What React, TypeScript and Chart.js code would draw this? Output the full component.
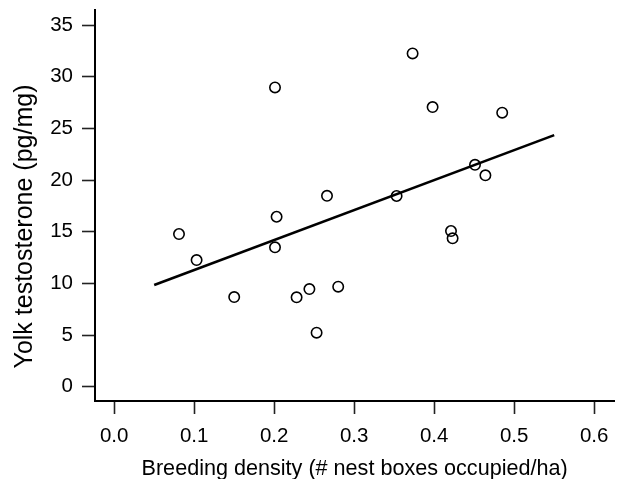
import { useEffect, useRef } from 'react';
import { Chart, registerables } from 'chart.js';

Chart.register(...registerables);

// Breeding density (# nest boxes occupied/ha)
const densityX = [
  0.081, 0.103, 0.150, 0.201, 0.203, 0.201, 0.228, 0.244, 0.253, 0.266,
  0.280, 0.353, 0.373, 0.398, 0.421, 0.423, 0.451, 0.464, 0.485,
];
// Yolk testosterone (pg/mg)
const testosteroneY = [
  14.78, 12.26, 8.68, 28.97, 16.45, 13.49, 8.65, 9.45, 5.23, 18.48,
  9.68, 18.46, 32.26, 27.07, 15.07, 14.36, 21.48, 20.46, 26.52,
];
// Regression line end points
const fitX = [0.05, 0.55];
const fitY = [9.84, 24.35];

const xTicks = [0, 0.1, 0.2, 0.3, 0.4, 0.5, 0.6];
const yTicks = [0, 5, 10, 15, 20, 25, 30, 35];

const xTitle = 'Breeding density (# nest boxes occupied/ha)';
const yTitle = 'Yolk testosterone (pg/mg)';

const FONT = "'Liberation Sans', Arial, Helvetica, sans-serif";

const yTitlePlugin = {
  id: 'yTitlePlugin',
  afterDraw(chart: any) {
    const ctx = chart.ctx;
    ctx.save();
    ctx.translate(31.5, 226.5);
    ctx.rotate(-Math.PI / 2);
    ctx.font = `25px ${FONT}`;
    ctx.fillStyle = '#000';
    ctx.textAlign = 'center';
    ctx.textBaseline = 'alphabetic';
    ctx.fillText(yTitle, 0, 0);
    ctx.restore();
  },
};

export default function App() {
  const ref = useRef<HTMLCanvasElement>(null);

  useEffect(() => {
    if (!ref.current) return;
    const points = densityX.map((x, i) => ({ x, y: testosteroneY[i] }));
    const fit = fitX.map((x, i) => ({ x, y: fitY[i] }));
    const chart = new Chart(ref.current, {
      type: 'scatter',
      data: {
        datasets: [
          {
            type: 'line',
            data: fit,
            borderColor: '#000',
            borderWidth: 2.6,
            pointRadius: 0,
            fill: false,
          } as any,
          {
            data: points,
            pointStyle: 'circle',
            pointRadius: 5.2,
            pointBorderWidth: 1.6,
            borderColor: '#000',
            backgroundColor: 'rgba(0,0,0,0)',
            pointBackgroundColor: 'rgba(0,0,0,0)',
            pointBorderColor: '#000',
          } as any,
        ],
      },
      plugins: [yTitlePlugin],
      options: {
        animation: false,
        responsive: false,
        layout: { padding: { top: 10, right: 4, left: 0, bottom: 0 } },
        plugins: { legend: { display: false }, tooltip: { enabled: false } },
        scales: {
          x: {
            type: 'linear',
            min: -0.024,
            max: 0.625,
            afterBuildTicks: (s: any) => {
              s.ticks = xTicks.map((v) => ({ value: v }));
            },
            afterFit: (s: any) => {
              s.height = 78;
              s.paddingLeft = 0;
              s.paddingRight = 0;
            },
            ticks: {
              callback: (v: any) => Number(v).toFixed(1),
              color: '#000',
              font: { family: FONT, size: 20.5 },
              padding: 10,
              maxRotation: 0,
              autoSkip: false,
            },
            grid: {
              drawOnChartArea: false,
              drawTicks: true,
              tickLength: 13,
              tickWidth: 1.6,
              tickColor: '#222',
            },
            border: { display: true, color: '#000', width: 2 },
            title: {
              display: true,
              text: xTitle,
              color: '#000',
              font: { family: FONT, size: 21.6 },
              padding: { top: 0, bottom: -3 },
            },
          },
          y: {
            type: 'linear',
            min: -1.38,
            max: 36.46,
            afterBuildTicks: (s: any) => {
              s.ticks = yTicks.map((v) => ({ value: v }));
            },
            afterFit: (s: any) => {
              s.width = 95;
              s.paddingTop = 0;
              s.paddingBottom = 0;
            },
            ticks: {
              callback: (v: any) => String(v),
              color: '#000',
              font: { family: FONT, size: 20.5 },
              padding: 9,
              autoSkip: false,
            },
            grid: {
              drawOnChartArea: false,
              drawTicks: true,
              tickLength: 13,
              tickWidth: 1.6,
              tickColor: '#222',
            },
            border: { display: true, color: '#000', width: 2 },
            title: { display: false },
          },
        },
      },
    });
    return () => chart.destroy();
  }, []);

  return (
    <div style={{ position: 'absolute', left: 0, top: 0, width: 621, height: 479, background: '#fff' }}>
      <canvas ref={ref} width={621} height={479} style={{ display: 'block' }} />
    </div>
  );
}
